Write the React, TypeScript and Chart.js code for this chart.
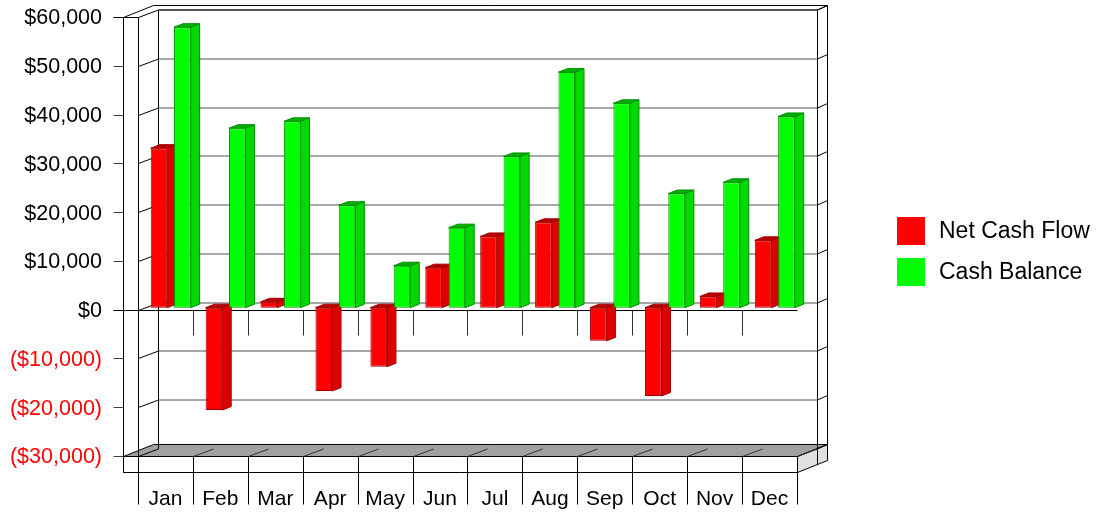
import React, { useEffect, useRef } from 'react';
import { Chart, registerables } from 'chart.js';

Chart.register(...registerables);

const months = ['Jan', 'Feb', 'Mar', 'Apr', 'May', 'Jun', 'Jul', 'Aug', 'Sep', 'Oct', 'Nov', 'Dec'];
const netCashFlow = [32700, -21000, 1200, -17100, -12100, 8200, 14600, 17500, -6800, -18100, 2300, 13800];
const cashBalance = [57500, 36800, 38200, 21000, 8600, 16400, 31000, 48300, 41900, 23400, 25700, 39200];
const seriesNames = ['Net Cash Flow', 'Cash Balance'];
const yMin = -30000;
const yMax = 60000;
const yStep = 10000;

const FONT = "'Liberation Sans', Arial, Helvetica, sans-serif";

const frontColors = ['#ff0000', '#00ff00'];
const sideColors = ['#dd0000', '#00d800'];
const topColors = ['#b80000', '#00b000'];
const edgeColors = ['#a00000', '#009000'];

// geometry of the pseudo-3D frame (pixels)
const BAR_SHIFT = { x: 5.2, y: -2 };
const BAR_DEPTH = { x: 9, y: -3.5 };
const IN_DEPTH = { x: 20, y: -7.5 };
const OUT_DEPTH = { x: 30, y: -12 };
const WALL = 15;
const FLOOR_H = 16;
const TICK = 10;

const fmtMoney = (v: number) => {
  const s = '$' + Math.abs(v).toLocaleString('en-US');
  return v < 0 ? '(' + s + ')' : s;
};

function line(ctx: CanvasRenderingContext2D, x1: number, y1: number, x2: number, y2: number) {
  ctx.beginPath();
  ctx.moveTo(x1, y1);
  ctx.lineTo(x2, y2);
  ctx.stroke();
}

function poly(ctx: CanvasRenderingContext2D, pts: number[][], fill?: string, stroke?: string) {
  ctx.beginPath();
  ctx.moveTo(pts[0][0], pts[0][1]);
  for (let i = 1; i < pts.length; i++) ctx.lineTo(pts[i][0], pts[i][1]);
  ctx.closePath();
  if (fill) {
    ctx.fillStyle = fill;
    ctx.fill();
  }
  if (stroke) {
    ctx.strokeStyle = stroke;
    ctx.stroke();
  }
}

const framePlugin = {
  id: 'frame3d',
  beforeDatasetsDraw(chart: any) {
    const { ctx, chartArea: a, scales } = chart;
    const xs = scales.x;
    const ys = scales.y;
    const px = (v: number) => Math.round(v) + 0.5;
    const L = px(a.left);
    const R = px(a.right);
    const T = px(ys.getPixelForValue(yMax));
    const B = px(ys.getPixelForValue(yMin));
    const OL = L - WALL;
    ctx.save();
    ctx.lineWidth = 1;

    // floor top (gray)
    poly(ctx, [[OL, B], [R, B], [R + OUT_DEPTH.x, B + OUT_DEPTH.y], [OL + OUT_DEPTH.x, B + OUT_DEPTH.y]], '#a0a0a0', '#000');
    // floor front face
    poly(ctx, [[OL, B], [R, B], [R, B + FLOOR_H], [OL, B + FLOOR_H]], '#ffffff', '#000');
    // floor right face
    poly(ctx, [[R, B], [R + OUT_DEPTH.x, B + OUT_DEPTH.y], [R + OUT_DEPTH.x, B + OUT_DEPTH.y + FLOOR_H], [R, B + FLOOR_H]], '#e0e0e0', '#000');

    // grid lines
    for (let v = yMin; v <= yMax; v += yStep) {
      const yy = px(ys.getPixelForValue(v));
      if (v !== yMin) {
        ctx.strokeStyle = '#505050';
        line(ctx, L + IN_DEPTH.x, yy + IN_DEPTH.y, R + IN_DEPTH.x, yy + IN_DEPTH.y);
      }
      ctx.strokeStyle = '#000';
      line(ctx, L, yy, L + IN_DEPTH.x, yy + IN_DEPTH.y);
      line(ctx, R + IN_DEPTH.x, yy + IN_DEPTH.y, R + OUT_DEPTH.x, yy + OUT_DEPTH.y);
      ctx.strokeStyle = '#404040';
      line(ctx, OL - TICK, yy, OL, yy);
    }

    ctx.strokeStyle = '#000';
    // inner back wall frame
    line(ctx, L + IN_DEPTH.x, T + IN_DEPTH.y, R + IN_DEPTH.x, T + IN_DEPTH.y);
    line(ctx, L + IN_DEPTH.x, T + IN_DEPTH.y, L + IN_DEPTH.x, B + IN_DEPTH.y);
    line(ctx, R + IN_DEPTH.x, T + IN_DEPTH.y, R + IN_DEPTH.x, B + IN_DEPTH.y + FLOOR_H);
    // outer frame
    line(ctx, OL, T, OL + OUT_DEPTH.x, T + OUT_DEPTH.y);
    line(ctx, OL + OUT_DEPTH.x, T + OUT_DEPTH.y, R + OUT_DEPTH.x, T + OUT_DEPTH.y);
    line(ctx, R + OUT_DEPTH.x, T + OUT_DEPTH.y, R + OUT_DEPTH.x, B + OUT_DEPTH.y);
    line(ctx, R + IN_DEPTH.x, T + IN_DEPTH.y, R + OUT_DEPTH.x, T + OUT_DEPTH.y);
    // left wall front
    line(ctx, OL - TICK, T, L, T);
    line(ctx, OL, T, OL, B + FLOOR_H);
    line(ctx, L, T, L, B);

    // category boundaries
    const w = xs.getPixelForValue(1) - xs.getPixelForValue(0);
    const x0 = xs.getPixelForValue(0) - w / 2;
    const y0 = px(ys.getPixelForValue(0));
    for (let i = 0; i <= months.length; i++) {
      const xb = px(x0 + i * w);
      ctx.strokeStyle = '#303030';
      if (i > 0) line(ctx, xb, B, xb + IN_DEPTH.x, B + IN_DEPTH.y);
      ctx.strokeStyle = '#000';
      line(ctx, xb, B, xb, B + 48);
      if (i > 0 && i < months.length) {
        ctx.strokeStyle = '#303030';
        line(ctx, xb, y0, xb, y0 + 25);
      }
    }
    // zero line
    ctx.strokeStyle = '#000';
    line(ctx, OL - TICK, y0, R, y0);
    ctx.restore();
  },
  // bars are drawn by their controllers in dataset order (left bar first)
  beforeDatasetDraw() {
    return false;
  },
  afterDatasetsDraw(chart: any) {
    const ctx = chart.ctx;
    chart.data.datasets.forEach((_ds: any, i: number) => {
      const meta = chart.getDatasetMeta(i);
      if (!meta || meta.hidden) return;
      ctx.save();
      ctx.translate(BAR_SHIFT.x, BAR_SHIFT.y);
      meta.controller.draw();
      ctx.lineWidth = 1;
      meta.data.forEach((el: any) => {
        const { x, y, base, width } = el.getProps(['x', 'y', 'base', 'width'], true);
        const l = x - width / 2;
        const r = x + width / 2;
        const top = Math.min(y, base);
        const bot = Math.max(y, base);
        poly(ctx, [[r, top], [r + BAR_DEPTH.x, top + BAR_DEPTH.y], [r + BAR_DEPTH.x, bot + BAR_DEPTH.y], [r, bot]], sideColors[i], edgeColors[i]);
        poly(ctx, [[l, top], [l + BAR_DEPTH.x, top + BAR_DEPTH.y], [r + BAR_DEPTH.x, top + BAR_DEPTH.y], [r, top]], topColors[i], edgeColors[i]);
      });
      ctx.restore();
    });
  },
  afterDraw(chart: any) {
    const { ctx, chartArea: a } = chart;
    ctx.save();
    const lx = Math.round(a.right) + 100;
    const ly = 217;
    chart.data.datasets.forEach((ds: any, i: number) => {
      ctx.fillStyle = ds.backgroundColor;
      ctx.fillRect(lx, ly + i * 41, 28, 28);
      ctx.fillStyle = '#000';
      ctx.font = `23px ${FONT}`;
      ctx.textBaseline = 'middle';
      ctx.textAlign = 'left';
      ctx.fillText(ds.label, lx + 42, ly + i * 41 + 15);
    });
    ctx.restore();
  },
};

export default function App() {
  const ref = useRef<HTMLCanvasElement>(null);
  useEffect(() => {
    if (!ref.current) return;
    const chart = new Chart(ref.current, {
      type: 'bar',
      data: {
        labels: months,
        datasets: [
          {
            label: seriesNames[0],
            data: netCashFlow,
            backgroundColor: frontColors[0],
            borderColor: edgeColors[0],
            borderWidth: 1,
            borderSkipped: false,
            categoryPercentage: 0.85,
            barPercentage: 0.71,
          },
          {
            label: seriesNames[1],
            data: cashBalance,
            backgroundColor: frontColors[1],
            borderColor: edgeColors[1],
            borderWidth: 1,
            borderSkipped: false,
            categoryPercentage: 0.85,
            barPercentage: 0.71,
          },
        ],
      },
      options: {
        responsive: false,
        devicePixelRatio: 1,
        animation: false,
        layout: { padding: { top: 17, right: 308, bottom: 0, left: 0 } },
        plugins: { legend: { display: false }, tooltip: { enabled: false } },
        scales: {
          x: {
            grid: { display: false, drawTicks: false },
            border: { display: false },
            ticks: { font: { family: FONT, size: 21 }, color: '#000', padding: 31, maxRotation: 0, autoSkip: false },
            afterFit: (s: any) => {
              s.height = 57;
              s.paddingLeft = 0;
              s.paddingRight = 0;
            },
          },
          y: {
            min: yMin,
            max: yMax,
            grid: { display: false, drawTicks: false },
            border: { display: false },
            ticks: {
              stepSize: yStep,
              callback: (v: any) => fmtMoney(Number(v)),
              color: (c: any) => (c.tick && c.tick.value < 0 ? '#ff0000' : '#000000'),
              font: { family: FONT, size: 21.5 },
              padding: 36,
              labelOffset: 1.5,
            },
            afterFit: (s: any) => {
              s.width = 138;
              s.paddingTop = 0;
              s.paddingBottom = 0;
            },
          },
        },
      } as any,
      plugins: [framePlugin],
    });
    return () => chart.destroy();
  }, []);
  return (
    <div style={{ position: 'fixed', left: 0, top: 0, width: 1105, height: 513, background: '#fff' }}>
      <canvas ref={ref} width={1105} height={513} style={{ display: 'block', width: 1105, height: 513 }} />
    </div>
  );
}
